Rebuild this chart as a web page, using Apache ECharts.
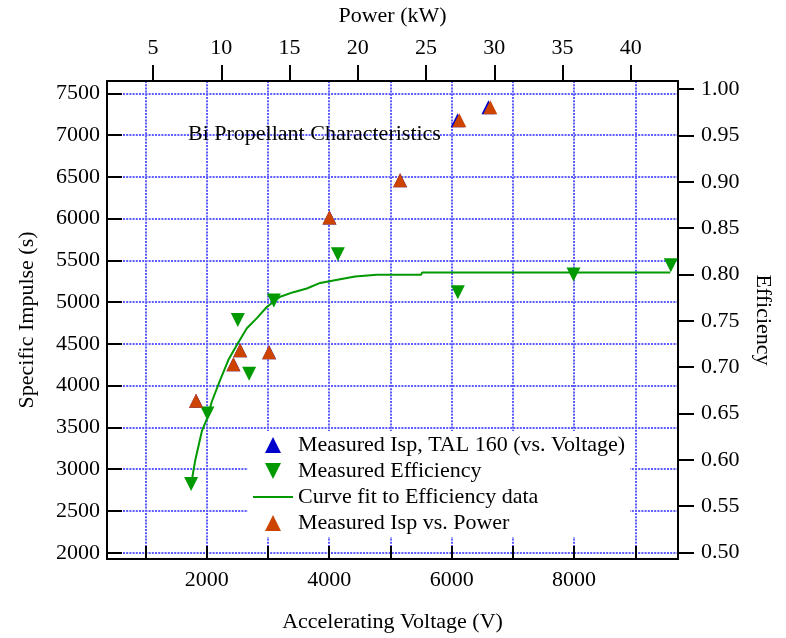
<!DOCTYPE html>
<html>
<head>
<meta charset="UTF-8" />
<title>Bi Propellant Characteristics</title>
<script type="text/javascript" src="https://cdn.jsdelivr.net/npm/echarts@6/dist/echarts.min.js"></script>
<style>
	html, body { margin: 0; padding: 0; background: #fff; }
	#chart { width: 786px; height: 638px; }
</style>
</head>
<body>
<div id="chart"></div>
<script>
// Measured Isp, plotted against voltage (TAL 160)
var ispVolt = [1827, 2437, 2546, 3020, 4005, 5159, 6098, 6601];
var ispVoltVal = [3820, 4257, 4424, 4400, 6015, 6460, 7180, 7335];
// Measured Isp, plotted against power (kW)
var ispPower = [8.15, 10.89, 11.38, 13.50, 17.92, 23.10, 27.44, 29.71];
var ispPowerVal = [3820, 4257, 4424, 4400, 6015, 6460, 7180, 7335];
// Measured efficiency
var effVolt = [1746, 2012, 2508, 2693, 3096, 4142, 6101, 7990, 9580];
var effVal = [0.574, 0.650, 0.751, 0.693, 0.772, 0.822, 0.781, 0.800, 0.810];
// curve fit to efficiency
var fitVolt = [1746, 1811, 1921, 2002, 2084, 2219, 2355, 2492, 2656, 2819, 2982, 3199, 3417, 3635, 3853, 4179, 4424, 4779, 5500, 5520, 9570];
var fitVal = [0.574, 0.599, 0.631, 0.644, 0.663, 0.686, 0.708, 0.724, 0.742, 0.753, 0.765, 0.776, 0.781, 0.785, 0.791, 0.795, 0.798, 0.7998, 0.7998, 0.8022, 0.8022];

var font = 'Liberation Serif';
var black = '#000';
var dotted = { color: '#5c5cff', width: 2, type: [2, 1.2] };

// legend icons (kept in aspect by the legend)
var iconUp = 'path://M0,-1 L1,1 L-1,1 Z';
var iconDown = 'path://M-1,-1 L1,-1 L0,1 Z';
var iconLine = 'path://M0,0 L40,0 L40,2 L0,2 Z';

function pairs(xs, ys) {
	var out = [];
	for (var i = 0; i < xs.length; i++) out.push([xs[i], ys[i]]);
	return out;
}

var myChart = echarts.init(document.getElementById('chart'));
myChart.setOption({
	animation: false,
	textStyle: { fontFamily: font },
	title: {
		text: 'Bi Propellant Characteristics',
		left: 188, top: 123, padding: 0,
		textStyle: { fontFamily: font, fontSize: 22, fontWeight: 'normal', color: black }
	},
	grid: { left: 107, right: 108, top: 81, bottom: 76, containLabel: false },
	legend: {
		orient: 'vertical',
		left: 248, top: 431,
		padding: [3, 5],
		backgroundColor: '#fff',
		itemWidth: 40, itemHeight: 16, itemGap: 4,
		symbolKeepAspect: true,
		textStyle: { fontFamily: font, fontSize: 22, color: black, lineHeight: 22 },
		data: [
			{ name: 'Measured Isp, TAL 160 (vs. Voltage)', icon: iconUp },
			{ name: 'Measured Efficiency', icon: iconDown },
			{ name: 'Curve fit to Efficiency data', icon: iconLine },
			{ name: 'Measured Isp vs. Power', icon: iconUp }
		]
	},
	xAxis: [{
		type: 'value', position: 'bottom',
		min: 371.7, max: 9696.9, splitNumber: 10,
		name: 'Accelerating Voltage (V)', nameLocation: 'middle', nameGap: 52,
		nameTextStyle: { fontFamily: font, fontSize: 22, color: black },
		axisLine: { onZero: false, lineStyle: { color: black, width: 2 } },
		axisTick: { inside: true, length: 13, lineStyle: { color: black, width: 2 } },
		axisLabel: {
			margin: 10, fontFamily: font, fontSize: 22, color: black,
			showMinLabel: false, showMaxLabel: false,
			formatter: function (v) { return v % 2000 === 0 ? String(v) : ''; }
		},
		splitLine: { show: true, lineStyle: dotted }
	}, {
		type: 'value', position: 'top',
		min: 1.630, max: 43.458, splitNumber: 9,
		name: 'Power (kW)', nameLocation: 'middle', nameGap: 54,
		nameTextStyle: { fontFamily: font, fontSize: 22, color: black },
		axisLine: { onZero: false, lineStyle: { color: black, width: 2 } },
		axisTick: { inside: false, length: 16, lineStyle: { color: black, width: 2 } },
		axisLabel: {
			margin: 22, fontFamily: font, fontSize: 22, color: black,
			showMinLabel: false, showMaxLabel: false,
			formatter: function (v) { return v % 5 === 0 ? String(v) : ''; }
		},
		splitLine: { show: false }
	}],
	yAxis: [{
		type: 'value', position: 'left',
		min: 1925, max: 7648.7, splitNumber: 11,
		name: 'Specific Impulse (s)', nameLocation: 'middle', nameGap: 69,
		nameTextStyle: { fontFamily: font, fontSize: 22, color: black },
		axisLine: { onZero: false, lineStyle: { color: black, width: 2 } },
		axisTick: { inside: true, length: 15, lineStyle: { color: black, width: 2 } },
		axisLabel: {
			margin: 7, fontFamily: font, fontSize: 22, color: black,
			showMinLabel: false, showMaxLabel: false,
			formatter: function (v) { return v % 500 === 0 ? String(v) : ''; }
		},
		splitLine: { show: true, lineStyle: dotted }
	}, {
		type: 'value', position: 'right',
		min: 0.49303, max: 1.0089, splitNumber: 10,
		name: 'Efficiency', nameLocation: 'middle', nameGap: 74, nameRotate: -90,
		nameTextStyle: { fontFamily: font, fontSize: 22, color: black },
		axisLine: { onZero: false, lineStyle: { color: black, width: 2 } },
		axisTick: { inside: false, length: 16, lineStyle: { color: black, width: 2 } },
		axisLabel: {
			margin: 23, fontFamily: font, fontSize: 22, color: black,
			showMinLabel: false, showMaxLabel: false,
			formatter: function (v) {
				var r = Math.round(v * 100) / 100;
				return Math.abs(r - v) < 1e-6 && Math.round(r * 100) % 5 === 0 ? r.toFixed(2) : '';
			}
		},
		splitLine: { show: false }
	}],
	series: [{
		name: 'Measured Isp, TAL 160 (vs. Voltage)',
		type: 'scatter', xAxisIndex: 0, yAxisIndex: 0,
		symbol: 'triangle', symbolSize: 14,
		itemStyle: { color: '#0000cc', opacity: 1 },
		data: pairs(ispVolt, ispVoltVal)
	}, {
		name: 'Measured Efficiency',
		type: 'scatter', xAxisIndex: 0, yAxisIndex: 1,
		symbol: 'triangle', symbolRotate: 180, symbolSize: 14,
		itemStyle: { color: '#009900', opacity: 1 },
		data: pairs(effVolt, effVal)
	}, {
		name: 'Curve fit to Efficiency data',
		type: 'line', xAxisIndex: 0, yAxisIndex: 1,
		symbol: 'none', showSymbol: false,
		lineStyle: { color: '#009900', width: 2 },
		itemStyle: { color: '#009900' },
		data: pairs(fitVolt, fitVal)
	}, {
		name: 'Measured Isp vs. Power',
		type: 'scatter', xAxisIndex: 1, yAxisIndex: 0,
		symbol: 'triangle', symbolSize: 14,
		itemStyle: { color: '#cc4400', opacity: 1 },
		data: pairs(ispPower, ispPowerVal)
	}]
});
</script>
</body>
</html>
